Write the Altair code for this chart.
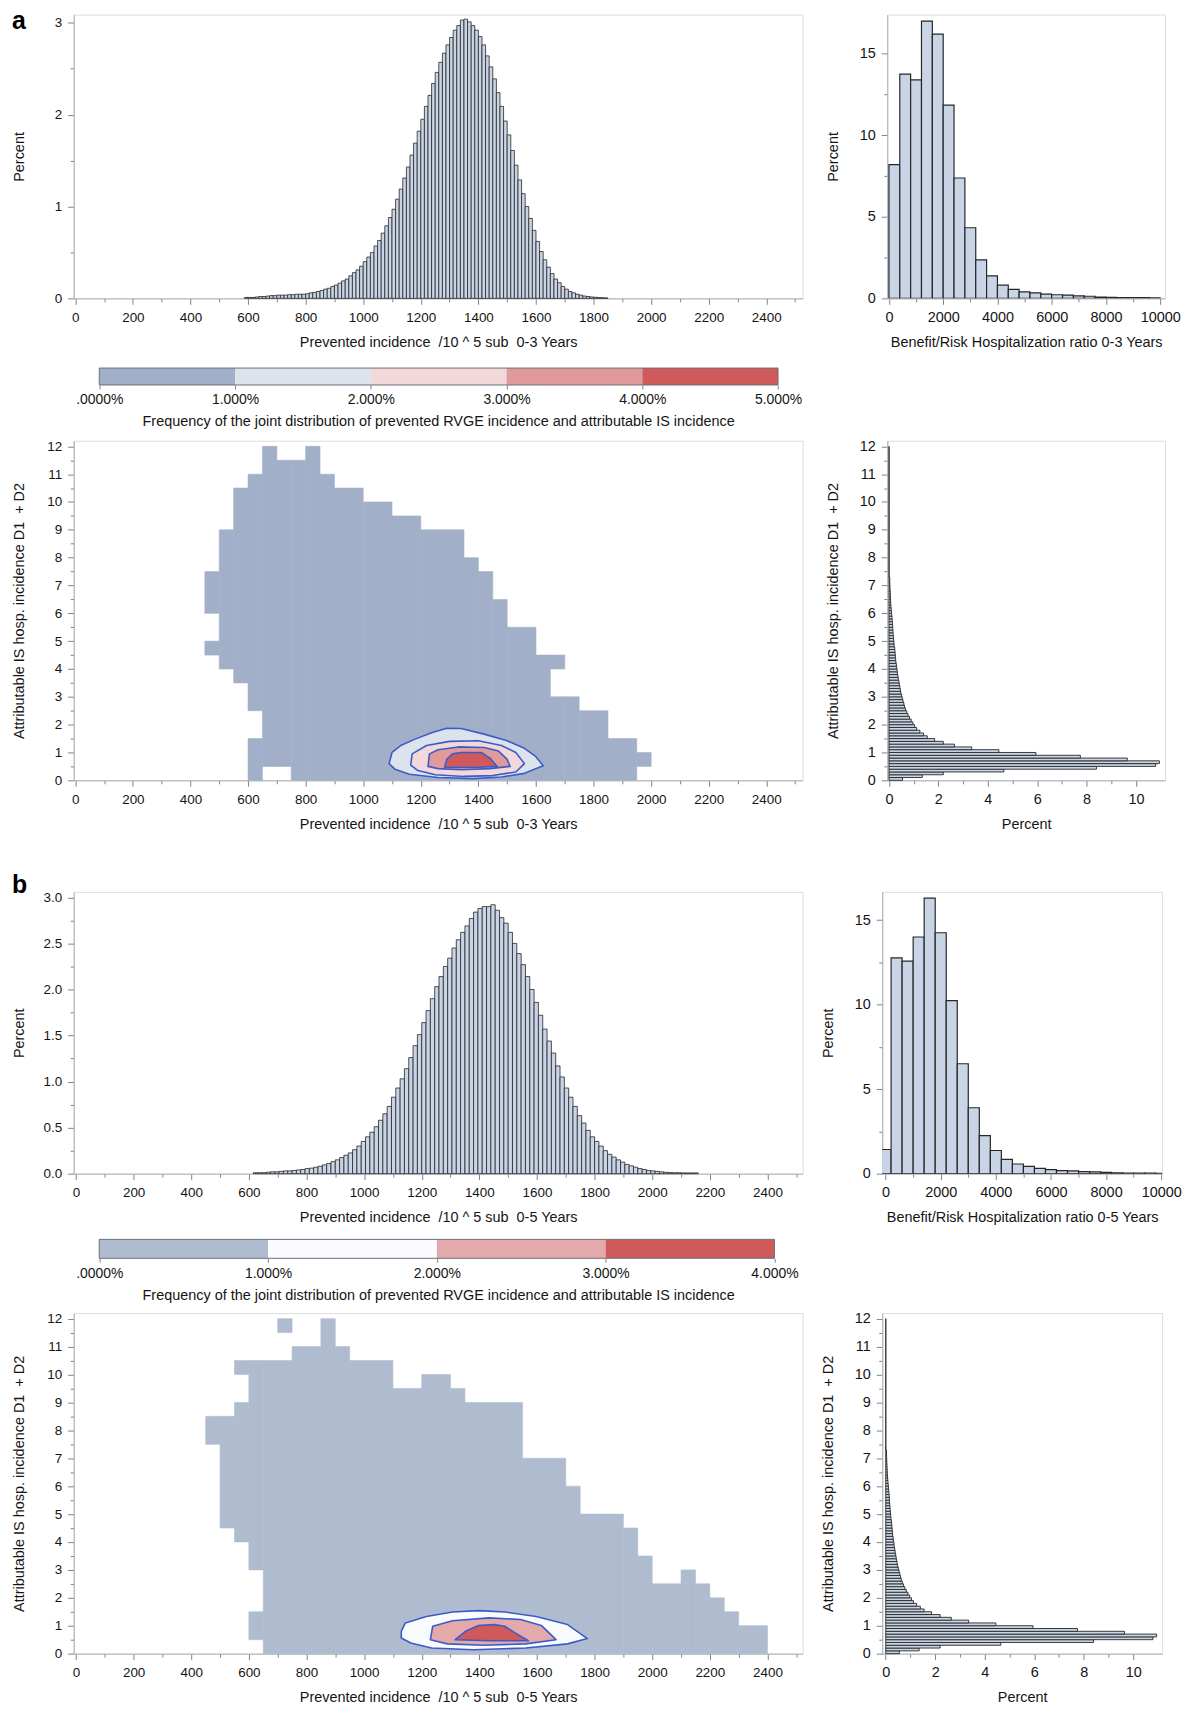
import altair as alt
import pandas as pd

# ---------------- data ----------------
# a: prevented incidence histogram (0-3 years), bins of 12.5 starting at 587.5
PREV_A_FIRST = 587.5
PREV_A_BIN = 12.5
prev_a_pct = [0.01, 0.01, 0.01, 0.015, 0.02, 0.02, 0.025, 0.03, 0.03, 0.035,
              0.035, 0.035, 0.04, 0.04, 0.045, 0.045, 0.045, 0.05, 0.06, 0.065,
              0.075, 0.085, 0.1, 0.11, 0.13, 0.145, 0.165, 0.19, 0.21, 0.245,
              0.28, 0.31, 0.35, 0.4, 0.45, 0.5, 0.57, 0.63, 0.71, 0.79,
              0.88, 0.97, 1.08, 1.19, 1.31, 1.43, 1.56, 1.69, 1.82, 1.95,
              2.09, 2.21, 2.34, 2.46, 2.57, 2.67, 2.76, 2.84, 2.92, 2.97,
              3.03, 3.04, 3.01, 2.97, 2.92, 2.85, 2.76, 2.64, 2.52, 2.39,
              2.24, 2.09, 1.93, 1.78, 1.61, 1.45, 1.29, 1.14, 1.0, 0.87,
              0.74, 0.62, 0.51, 0.42, 0.34, 0.27, 0.21, 0.17, 0.13, 0.1,
              0.075, 0.06, 0.045, 0.035, 0.025, 0.02, 0.015, 0.012, 0.009, 0.007,
              0.005]

# b: prevented incidence histogram (0-5 years), bins of 15 starting at 615
PREV_B_FIRST = 615
PREV_B_BIN = 15
prev_b_pct = [0.01, 0.01, 0.01, 0.015, 0.02, 0.02, 0.025, 0.03, 0.03, 0.035,
              0.04, 0.045, 0.055, 0.06, 0.07, 0.08, 0.095, 0.11, 0.13, 0.15,
              0.175, 0.2, 0.225, 0.26, 0.3, 0.35, 0.4, 0.45, 0.51, 0.58,
              0.65, 0.73, 0.83, 0.93, 1.03, 1.14, 1.26, 1.39, 1.51, 1.64,
              1.77, 1.9, 2.03, 2.14, 2.25, 2.34, 2.45, 2.54, 2.62, 2.69,
              2.77, 2.84, 2.88, 2.9, 2.9, 2.92, 2.86, 2.78, 2.72, 2.62,
              2.5, 2.39, 2.27, 2.14, 2.0, 1.86, 1.72, 1.57, 1.44, 1.31,
              1.17, 1.05, 0.93, 0.83, 0.73, 0.63, 0.55, 0.47, 0.4, 0.35,
              0.3, 0.25, 0.21, 0.18, 0.15, 0.125, 0.1, 0.085, 0.07, 0.055,
              0.045, 0.035, 0.03, 0.025, 0.02, 0.015, 0.012, 0.01, 0.01, 0.008,
              0.008, 0.008, 0.008]

# benefit/risk ratio histograms, bins of 400
BR_A_FIRST = 0
BR_B_FIRST = -200
BR_BIN = 400
br_a_pct = [8.2, 13.75, 13.4, 17.0, 16.2, 11.85, 7.38, 4.33, 2.36, 1.38,
            0.81, 0.55, 0.4, 0.33, 0.26, 0.22, 0.2, 0.15, 0.13, 0.08,
            0.06, 0.05, 0.04, 0.04, 0.03]
br_b_pct = [1.43, 12.76, 12.57, 14.0, 16.3, 14.25, 10.24, 6.5, 3.9, 2.25,
            1.37, 0.84, 0.57, 0.43, 0.31, 0.24, 0.18, 0.16, 0.12, 0.1,
            0.08, 0.05, 0.04, 0.04, 0.03, 0.02]

# attributable IS hospitalisation incidence histogram, bins of 0.1 from 0
IS_BIN = 0.1
is_pct = [0.55, 1.35, 2.2, 4.65, 8.4, 10.8, 10.95, 9.65, 7.75, 5.95,
          4.45, 3.35, 2.65, 2.2, 1.85, 1.55, 1.4, 1.25, 1.12, 1.04,
          0.97, 0.9, 0.83, 0.77, 0.72, 0.67, 0.63, 0.6, 0.57, 0.54,
          0.51, 0.48, 0.46, 0.44, 0.42, 0.4, 0.38, 0.36, 0.34, 0.33,
          0.31, 0.3, 0.28, 0.27, 0.26, 0.25, 0.24, 0.23, 0.21, 0.2,
          0.19, 0.18, 0.17, 0.16, 0.155, 0.15, 0.14, 0.13, 0.12, 0.11,
          0.1, 0.09, 0.08, 0.07, 0.065, 0.06, 0.055, 0.05, 0.045, 0.04,
          0.035, 0.03, 0.03, 0.004, 0.004, 0.004, 0.004, 0.004, 0.004, 0.004,
          0.004, 0.004, 0.004, 0.004, 0.004, 0.004, 0.004, 0.004, 0.004, 0.004,
          0.004, 0.004, 0.004, 0.004, 0.004, 0.004, 0.004, 0.004, 0.004, 0.004,
          0.004, 0.004, 0.004, 0.004, 0.004, 0.004, 0.004, 0.004, 0.004, 0.004,
          0.004, 0.004, 0.004, 0.004, 0.004, 0.004, 0.004, 0.004, 0.004, 0.004]

# joint-distribution support (cells with frequency > 0), as column segments
heat_a_x0 = [450, 450, 500, 550, 600, 600, 650, 700, 750, 800, 850, 900, 1000, 1100, 1200,
             1350, 1400, 1450, 1500, 1600, 1650, 1650, 1700, 1750, 1850, 1950]
heat_a_x1 = [500, 500, 550, 600, 650, 650, 700, 750, 800, 850, 900, 1000, 1100, 1200, 1350,
             1400, 1450, 1500, 1600, 1650, 1700, 1700, 1750, 1850, 1950, 2000]
heat_a_y0 = [4.5, 6.0, 4.0, 3.5, 0, 2.5, 0.5, 0.5, 0, 0, 0, 0, 0, 0, 0,
             0, 0, 0, 0, 0, 0, 4.0, 0, 0, 0, 0.5]
heat_a_y1 = [5.0, 7.5, 9.0, 10.5, 1.5, 11.0, 12.0, 11.5, 11.5, 12.0, 11.0, 10.5, 10.0, 9.5, 9.0,
             8.0, 7.5, 6.5, 5.5, 4.5, 3.0, 4.5, 3.0, 2.5, 1.5, 1.0]

heat_b_x0 = [450, 500, 550, 550, 600, 600, 650, 700, 700, 750, 850, 900, 950, 1100, 1200,
             1300, 1350, 1550, 1700, 1750, 1900, 1950, 2000, 2100, 2150, 2200, 2250, 2300]
heat_b_x1 = [500, 550, 600, 600, 650, 650, 700, 750, 750, 850, 900, 950, 1100, 1200, 1300,
             1350, 1550, 1700, 1750, 1900, 1950, 2000, 2100, 2150, 2200, 2250, 2300, 2400]
heat_b_y0 = [7.5, 4.5, 4.0, 10.0, 0.5, 3.0, 0, 0, 11.5, 0, 0, 0, 0, 0, 0,
             0, 0, 0, 0, 0, 0, 0, 0, 0, 0, 0, 0, 0]
heat_b_y1 = [8.5, 8.5, 9.0, 10.5, 1.5, 10.5, 10.5, 10.5, 12.0, 11.0, 12.0, 11.0, 10.5, 9.5, 10.0,
             9.5, 9.0, 7.0, 6.0, 5.0, 4.5, 3.5, 2.5, 3.0, 2.5, 2.0, 1.5, 1.0]

# contour polygons (x, y) of the joint frequency levels
contour_a_1 = [(1090, 0.6), (1100, 1.0), (1130, 1.25), (1180, 1.48), (1240, 1.72), (1290, 1.87),
               (1340, 1.86), (1420, 1.66), (1500, 1.42), (1560, 1.15), (1600, 0.85), (1625, 0.52),
               (1560, 0.25), (1480, 0.12), (1380, 0.06), (1260, 0.1), (1160, 0.22), (1110, 0.4)]
contour_a_2 = [(1165, 0.55), (1170, 0.95), (1220, 1.25), (1300, 1.4), (1400, 1.42), (1480, 1.25),
               (1530, 1.0), (1560, 0.6), (1530, 0.3), (1450, 0.17), (1350, 0.14), (1250, 0.2),
               (1190, 0.35)]
contour_a_3 = [(1225, 0.5), (1230, 0.95), (1260, 1.1), (1330, 1.2), (1420, 1.18), (1470, 1.05),
               (1500, 0.75), (1510, 0.5), (1440, 0.42), (1340, 0.38), (1260, 0.42)]
contour_a_4 = [(1283, 0.47), (1290, 0.75), (1310, 0.95), (1340, 1.0), (1410, 1.0), (1440, 0.8),
               (1465, 0.5), (1400, 0.47), (1330, 0.46)]
contour_b_1 = [(1129, 0.56), (1129, 0.8), (1143, 1.1), (1216, 1.33), (1307, 1.49), (1397, 1.54),
               (1488, 1.49), (1597, 1.33), (1706, 1.04), (1775, 0.54), (1706, 0.35), (1561, 0.2),
               (1379, 0.14), (1234, 0.2), (1162, 0.38)]
contour_b_2 = [(1230, 0.5), (1238, 0.98), (1307, 1.18), (1434, 1.28), (1543, 1.22), (1615, 1.01),
               (1666, 0.5), (1561, 0.35), (1416, 0.3), (1289, 0.35)]
contour_b_3 = [(1316, 0.5), (1352, 0.8), (1397, 1.01), (1452, 1.04), (1488, 0.98), (1534, 0.68),
               (1570, 0.46), (1434, 0.46)]

legend_a_colors = ["#a1b0c8", "#dde3ec", "#f2d8da", "#e09a9c", "#d05a5b"]
legend_b_colors = ["#afbcd0", "#fafbff", "#e4a9ab", "#d05a5a"]

TXT_PREV_A = "Prevented incidence \u00a0/10 ^ 5 sub \u00a00-3 Years"
TXT_PREV_B = "Prevented incidence \u00a0/10 ^ 5 sub \u00a00-5 Years"
TXT_BR_A = "Benefit/Risk Hospitalization ratio 0-3 Years"
TXT_BR_B = "Benefit/Risk Hospitalization ratio 0-5 Years"
TXT_IS = "Attributable IS hosp. incidence D1 \u00a0+ D2"
TXT_LEG = "Frequency of the joint distribution of prevented RVGE incidence and attributable IS incidence"

# ---------------- styling ----------------
FONT = "Liberation Sans, Arial, Helvetica, sans-serif"
FRAME = "#a9aeb6"
TICK = "#7d828a"
TXT = "#141414"
BAR_FILL = "#c9d5e6"
BAR_STROKE = "#262626"
CONTOUR = "#3b5cc8"

LW = 732           # left panel width
RW_A, RW_B = 279, 281
H_TOP_A, H_LEG_A, H_HEAT_A = 285, 17, 341
H_TOP_B, H_LEG_B, H_HEAT_B = 283, 19, 342


def mk_axis(lo, hi, minor, major, fmt, title, tx=None, ty=None, lsize=13.5, tsize=14.5):
    n = int(round((hi - lo) / minor))
    vals = [round(lo + i * minor, 6) for i in range(n + 1)]
    test = f"abs(datum.value / {major} - round(datum.value / {major})) < 0.001"
    kw = dict(values=vals,
              labelExpr=f"({test}) ? format(datum.value, '{fmt}') : ''",
              tickSize={"condition": {"test": test, "value": 6}, "value": 3.5},
              title=title, grid=False, labelOverlap=False, labelFlush=False,
              labelFont=FONT, labelFontSize=lsize, labelColor=TXT, labelPadding=6,
              titleFont=FONT, titleFontSize=tsize, titleFontWeight="normal", titleColor=TXT,
              titleBaseline="middle", domainColor=FRAME, tickColor=TICK)
    if tx is not None:
        kw["titleX"] = tx
    if ty is not None:
        kw["titleY"] = ty
    return alt.Axis(**kw)


def lin(domain):
    return alt.Scale(domain=domain, nice=False, zero=False)


def panel_title(letter, dy):
    return alt.TitleParams(text=letter, anchor="start", orient="top", frame="group", dx=-62, dy=dy,
                           offset=0, baseline="alphabetic", fontSize=25, fontWeight="bold",
                           font=FONT, color="#000000")


def prevented_hist(first, binw, pct, xdom, ydom, yaxis, xtitle, h, letter, dy):
    df = pd.DataFrame({"x0": [first + i * binw for i in range(len(pct))], "pct": pct})
    df["x1"] = df["x0"] + binw
    df["base"] = 0.0
    return alt.Chart(df).mark_rect(fill=BAR_FILL, stroke=BAR_STROKE, strokeWidth=0.8).encode(
        x=alt.X("x0:Q", scale=lin(xdom), axis=mk_axis(0, 2500, 100, 200, "d", xtitle, ty=44.5)),
        x2="x1:Q",
        y=alt.Y("base:Q", scale=lin(ydom), axis=yaxis),
        y2="pct:Q",
    ).properties(width=LW, height=h, title=panel_title(letter, dy))


def ratio_hist(first, pct, xdom, ydom, xtitle, w, h):
    df = pd.DataFrame({"x0": [first + i * BR_BIN for i in range(len(pct))], "pct": pct})
    df["x1"] = df["x0"] + BR_BIN
    df["base"] = 0.0
    return alt.Chart(df).mark_rect(fill=BAR_FILL, stroke=BAR_STROKE, strokeWidth=1.2, clip=True).encode(
        x=alt.X("x0:Q", scale=lin(xdom),
                axis=mk_axis(0, 10000, 1000, 2000, "d", xtitle, ty=44.5, lsize=14.5)),
        x2="x1:Q",
        y=alt.Y("base:Q", scale=lin(ydom),
                axis=mk_axis(0, 15, 2.5, 5, "d", "Percent", tx=-54, ty=h / 2, lsize=14.5)),
        y2="pct:Q",
    ).properties(width=w, height=h)


def is_hist(xdom, w, h):
    df = pd.DataFrame({"y0": [round(i * IS_BIN, 2) for i in range(len(is_pct))], "pct": is_pct})
    df["y1"] = df["y0"] + IS_BIN
    df["base"] = 0.0
    return alt.Chart(df).mark_rect(fill=BAR_FILL, stroke=BAR_STROKE, strokeWidth=0.9).encode(
        y=alt.Y("y0:Q", scale=lin([0, 12.2]),
                axis=mk_axis(0, 12, 0.5, 1, "d", TXT_IS, tx=-54, ty=h / 2, lsize=14.5)),
        y2="y1:Q",
        x=alt.X("base:Q", scale=lin(xdom),
                axis=mk_axis(0, 10, 1, 2, "d", "Percent", ty=44.5, lsize=14.5)),
        x2="pct:Q",
    ).properties(width=w, height=h)


def heatmap(x0, x1, y0, y1, fill, contours, xdom, xtitle, h):
    xs = lin(xdom)
    ys = lin([0, 12.2])
    xax = mk_axis(0, 2500, 100, 200, "d", xtitle, ty=44.5)
    yax = mk_axis(0, 12, 0.5, 1, "d", TXT_IS, tx=-54, ty=h / 2)
    seg = pd.DataFrame({"x0": x0, "x1": x1, "y0": y0, "y1": y1})
    layers = [alt.Chart(seg).mark_rect(fill=fill, stroke=fill, strokeWidth=0.6).encode(
        x=alt.X("x0:Q", scale=xs, axis=xax),
        x2="x1:Q",
        y=alt.Y("y0:Q", scale=ys, axis=yax),
        y2="y1:Q",
    )]
    for pts, col in contours:
        df = pd.DataFrame({"x": [p[0] for p in pts], "y": [p[1] for p in pts],
                           "o": list(range(len(pts)))})
        layers.append(alt.Chart(df).mark_line(fill=col, stroke=CONTOUR, strokeWidth=1.6,
                                              interpolate="linear-closed", strokeJoin="round").encode(
            x=alt.X("x:Q", scale=xs, axis=xax),
            y=alt.Y("y:Q", scale=ys, axis=yax),
            order="o:Q",
        ))
    return alt.layer(*layers).properties(width=LW, height=h)


def legend_bar(colors, xdom, h):
    n = len(colors)
    df = pd.DataFrame({"lo": list(range(n)), "hi": list(range(1, n + 1)), "c": colors})
    frame = pd.DataFrame({"lo": [0], "hi": [n], "b0": [0.0], "b1": [1.0]})
    ax = alt.Axis(values=list(range(n + 1)),
                  labelExpr="datum.value == 0 ? '.0000%' : format(datum.value, '.3f') + '%'",
                  title=TXT_LEG, titleY=37, titleBaseline="middle", domain=False, grid=False,
                  tickSize=4, tickColor=TICK, labelPadding=4, labelOverlap=False, labelFlush=False,
                  labelFont=FONT, labelFontSize=14, labelColor=TXT,
                  titleFont=FONT, titleFontSize=14.5, titleFontWeight="normal", titleColor=TXT)
    # blank left axis so that this row lines up with the panels above and below it
    yax = alt.Axis(title="\u00a0", titleX=-54, titleY=h / 2, titleBaseline="middle",
                   titleFont=FONT, titleFontSize=14.5, labels=False, ticks=False, domain=False,
                   grid=False)
    bars = alt.Chart(df).mark_rect().encode(
        x=alt.X("lo:Q", scale=lin(xdom), axis=ax),
        x2="hi:Q",
        color=alt.Color("c:N", scale=None),
    )
    border = alt.Chart(frame).mark_rect(fill="transparent", stroke="#6d6f74", strokeWidth=1).encode(
        x=alt.X("lo:Q", scale=lin(xdom), axis=ax),
        x2="hi:Q",
        y=alt.Y("b0:Q", scale=lin([0, 1]), axis=yax),
        y2="b1:Q",
    )
    return alt.layer(bars, border).properties(width=LW, height=h,
                                              view=alt.ViewBackground(stroke="transparent"))


XDOM_A = [-5.5, 2526]
XDOM_B = [-8, 2522]

top_a_left = prevented_hist(PREV_A_FIRST, PREV_A_BIN, prev_a_pct, XDOM_A, [0, 3.09],
                            mk_axis(0, 3, 0.5, 1, "d", "Percent", tx=-54, ty=H_TOP_A / 2),
                            TXT_PREV_A, H_TOP_A, "a", 40)
top_a_right = ratio_hist(BR_A_FIRST, br_a_pct, [-62, 10180], [0, 17.4], TXT_BR_A, RW_A, H_TOP_A)
leg_a = legend_bar(legend_a_colors, [-0.1886, 5.181], H_LEG_A)
heat_a = heatmap(heat_a_x0, heat_a_x1, heat_a_y0, heat_a_y1, "#a1b0c8",
                 [(contour_a_1, "#dde3ec"), (contour_a_2, "#f2d8da"),
                  (contour_a_3, "#e09a9c"), (contour_a_4, "#d05a5b")],
                 XDOM_A, TXT_PREV_A, H_HEAT_A)
is_a = is_hist([-0.07, 11.18], RW_A, H_HEAT_A)

top_b_left = prevented_hist(PREV_B_FIRST, PREV_B_BIN, prev_b_pct, XDOM_B, [0, 3.06],
                            mk_axis(0, 3, 0.25, 0.5, ".1f", "Percent", tx=-54, ty=H_TOP_B / 2),
                            TXT_PREV_B, H_TOP_B, "b", 28)
top_b_right = ratio_hist(BR_B_FIRST, br_b_pct, [-120, 10030], [0, 16.67], TXT_BR_B, RW_B, H_TOP_B)
leg_b = legend_bar(legend_b_colors, [-0.1516, 4.167], H_LEG_B)
heat_b = heatmap(heat_b_x0, heat_b_x1, heat_b_y0, heat_b_y1, "#afbcd0",
                 [(contour_b_1, "#fafbff"), (contour_b_2, "#e4a9ab"), (contour_b_3, "#d05a5a")],
                 XDOM_B, TXT_PREV_B, H_HEAT_B)
is_b = is_hist([-0.14, 11.17], RW_B, H_HEAT_B)

row_a1 = alt.hconcat(top_a_left, top_a_right, spacing=85, bounds="flush")
row_a2 = alt.hconcat(heat_a, is_a, spacing=85, bounds="flush")
row_b1 = alt.hconcat(top_b_left, top_b_right, spacing=80, bounds="flush")
row_b2 = alt.hconcat(heat_b, is_b, spacing=80, bounds="flush")

block_a = alt.vconcat(alt.vconcat(row_a1, leg_a, spacing=17), row_a2, spacing=9)
block_b = alt.vconcat(alt.vconcat(row_b1, leg_b, spacing=13), row_b2, spacing=8)

chart = alt.vconcat(block_a, block_b, spacing=41).properties(
    padding={"left": 11, "top": 5, "right": 2, "bottom": 2},
    background="white",
).configure_view(stroke=FRAME, strokeWidth=1).configure(font=FONT)

chart.save("out.html", embed_options={"renderer": "svg", "actions": False})
